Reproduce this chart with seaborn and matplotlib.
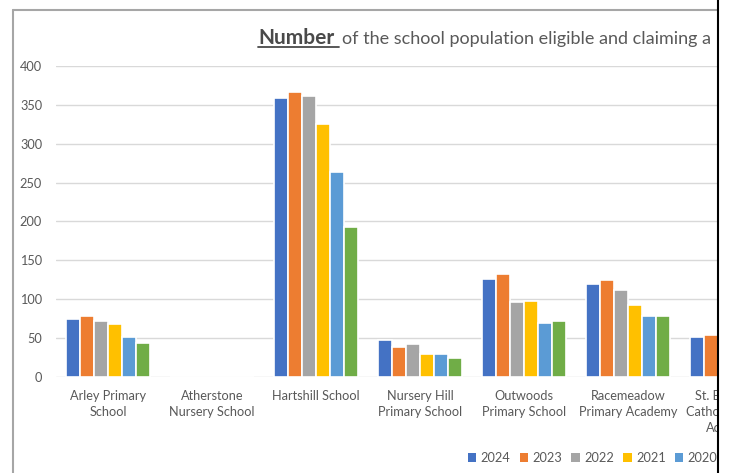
import matplotlib
matplotlib.use("Agg")
import matplotlib.pyplot as plt
import seaborn as sns
import pandas as pd
import numpy as np
from matplotlib.patches import Rectangle, Patch
from matplotlib.lines import Line2D

schools = ["Arley Primary\nSchool", "Atherstone\nNursery School", "Hartshill School",
           "Nursery Hill\nPrimary School", "Outwoods\nPrimary School",
           "Racemeadow\nPrimary Academy", "St. Benedict's\nCatholic Primary\nAcademy"]
years = ["2024", "2023", "2022", "2021", "2020", "2019"]
v2024 = [74, 0, 359, 47, 126, 120, 52]
v2023 = [79, 0, 366, 38, 132, 125, 54]
v2022 = [72, 0, 362, 42, 97, 112, np.nan]
v2021 = [68, 0, 326, 30, 98, 93, np.nan]
v2020 = [52, 0, 264, 29, 69, 78, np.nan]
v2019 = [44, 0, 193, 25, 72, 79, np.nan]
colors = ["#4472C4", "#ED7D31", "#A5A5A5", "#FFC000", "#5B9BD5", "#70AD47"]
yticks = [0, 50, 100, 150, 200, 250, 300, 350, 400]
title_bold = "Number"
title_rest = "of the school population eligible and claiming a"

series = [v2024, v2023, v2022, v2021, v2020, v2019]
rows = []
for yr, vals in zip(years, series):
    for s, v in zip(schools, vals):
        rows.append({"school": s, "year": yr, "value": v})
df = pd.DataFrame(rows)

sns.set_theme(style="white")
plt.rcParams['font.family'] = ['Lato', 'DejaVu Sans']
TXT = "#595959"

W, H = 729, 473
fig = plt.figure(figsize=(W / 100, H / 100), dpi=100)
fig.patch.set_facecolor("white")
ax = fig.add_axes([56 / W, (H - 377) / H, 7 * 104 / W, 311 / H])

sns.barplot(data=df, x="school", y="value", hue="year", order=schools,
            hue_order=years, palette=colors, saturation=1, width=0.8,
            errorbar=None, edgecolor="white", linewidth=1.2, legend=False, ax=ax)

ax.set_xlim(-0.5, 6.5)
ax.set_ylim(0, 400)
ax.set_yticks(yticks)
ax.set_yticklabels([str(t) for t in yticks])
ax.set_xlabel("")
ax.set_ylabel("")
ax.yaxis.grid(True, color="#d9d9d9", linewidth=1.0)
ax.set_axisbelow(True)
for sp in ax.spines.values():
    sp.set_visible(False)
ax.tick_params(axis="y", length=0, pad=10, labelsize=9.2, labelcolor=TXT)
ax.tick_params(axis="x", length=0, pad=9, labelsize=9.2, labelcolor=TXT)
for lab in ax.get_xticklabels():
    lab.set_linespacing(1.42)

# Title
renderer = fig.canvas.get_renderer()
by = (H - 44) / H
t1 = fig.text(258 / W, by, title_bold, fontsize=13, fontweight="bold",
              color="#4a4a4a", va="baseline", ha="left")
w1 = t1.get_window_extent(renderer).width
t1.set_fontsize(13 * 76 / w1)
t2 = fig.text(342 / W, by, title_rest, fontsize=13, color=TXT, va="baseline", ha="left")
w2 = t2.get_window_extent(renderer).width
t2.set_fontsize(13 * 368 / w2)
fig.add_artist(Line2D([258 / W, 339 / W], [(H - 47) / H] * 2, color="#4a4a4a",
                      linewidth=1.3, transform=fig.transFigure))

# Legend
handles = [Patch(facecolor=c, edgecolor="none") for c in colors]
leg = fig.legend(handles, years, loc="center left", bbox_to_anchor=(468 / W, (H - 458) / H),
                 ncol=6, frameon=False, handlelength=0.65, handleheight=0.65,
                 handletextpad=0.35, columnspacing=0.72, fontsize=9.2, borderpad=0,
                 borderaxespad=0)
for t in leg.get_texts():
    t.set_color(TXT)

# Frame and crop edge
fig.add_artist(Line2D([12.5 / W] * 2, [0, (H - 10.5) / H], color="#a6a6a6", linewidth=1.5,
                      transform=fig.transFigure, zorder=9))
fig.add_artist(Line2D([12.5 / W, 717 / W], [(H - 10.5) / H] * 2, color="#a6a6a6",
                      linewidth=1.5, transform=fig.transFigure, zorder=9))
fig.add_artist(Rectangle((718.5 / W, 0), 12 / W, 1, transform=fig.transFigure,
                         facecolor="white", edgecolor="none", zorder=10))
fig.add_artist(Line2D([717.5 / W] * 2, [0, 1], color="black", linewidth=1.5,
                      transform=fig.transFigure, zorder=11))

fig.savefig("out.png", dpi=100, facecolor="white")
